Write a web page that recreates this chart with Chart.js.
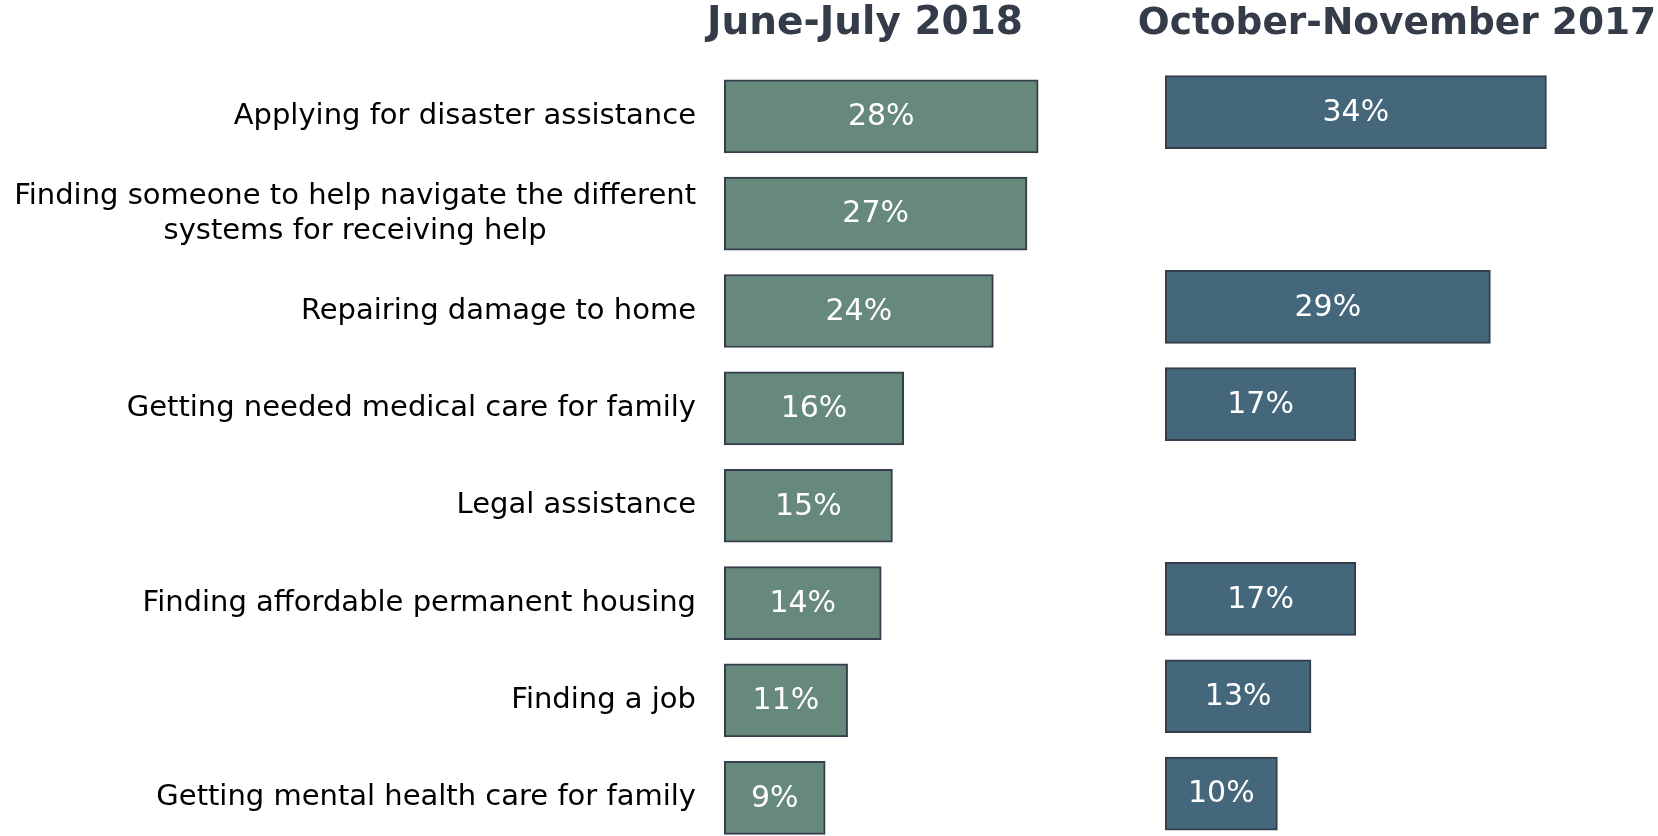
<!DOCTYPE html>
<html><head><meta charset="utf-8">
<script src="https://cdn.jsdelivr.net/npm/chart.js@4"></script>
<style>
html,body{margin:0;padding:0;background:#fff;overflow:hidden;}
#c1{position:absolute;left:0;top:0;}
#c2{position:absolute;left:1136px;top:0;}
</style></head><body>
<canvas id="c1" width="1130" height="836"></canvas>
<canvas id="c2" width="522" height="836"></canvas>
<script>
const categories = [
  'Applying for disaster assistance',
  ['Finding someone to help navigate the different', 'systems for receiving help'],
  'Repairing damage to home',
  'Getting needed medical care for family',
  'Legal assistance',
  'Finding affordable permanent housing',
  'Finding a job',
  'Getting mental health care for family'
];
const values2018 = [28, 27, 24, 16, 15, 14, 11, 9];
const values2017 = [34, null, 29, 17, null, 17, 13, 10];
const title2018 = 'June-July 2018';
const title2017 = 'October-November 2017';

const FONT = '"DejaVu Sans", Verdana, sans-serif';

const valueLabelPlugin = {
  id: 'valueLabels',
  afterDatasetsDraw(chart) {
    const ctx = chart.ctx;
    ctx.save();
    ctx.font = '30px ' + FONT;
    ctx.fillStyle = '#ffffff';
    ctx.textAlign = 'center';
    ctx.textBaseline = 'middle';
    chart.data.datasets.forEach((ds, di) => {
      const meta = chart.getDatasetMeta(di);
      meta.data.forEach((el, i) => {
        const v = ds.data[i];
        if (v === null || v === undefined) return;
        const p = el.getProps(['x', 'y', 'base'], true);
        ctx.fillText(v + '%', (p.x + p.base) / 2, p.y + 1);
      });
    });
    ctx.restore();
  }
};

const catLabelPlugin = {
  id: 'catLabels',
  afterDraw(chart) {
    const ys = chart.scales.y;
    const ctx = chart.ctx;
    ctx.save();
    ctx.font = '29px ' + FONT;
    ctx.fillStyle = '#000000';
    ctx.textAlign = 'center';
    ctx.textBaseline = 'middle';
    const right = chart.chartArea.left - 28.3;
    chart.data.labels.forEach((lab, i) => {
      const lines = Array.isArray(lab) ? lab : [lab];
      const w = Math.max(...lines.map(l => ctx.measureText(l).width));
      const cx = right - w / 2;
      const yc = ys.getPixelForValue(i);
      const lh = 35;
      lines.forEach((l, j) => ctx.fillText(l, cx, yc + (j - (lines.length - 1) / 2) * lh));
    });
    ctx.restore();
  }
};

function makeChart(id, values, title, color, opts) {
  return new Chart(document.getElementById(id), {
    type: 'bar',
    data: {
      labels: categories,
      datasets: [{
        data: values,
        backgroundColor: color,
        borderColor: '#343e4a',
        borderWidth: 2,
        borderSkipped: false,
        barThickness: 73,
        clip: false
      }]
    },
    options: {
      indexAxis: 'y',
      responsive: false,
      animation: false,
      events: [],
      layout: { padding: opts.padding },
      plugins: {
        legend: { display: false },
        tooltip: { enabled: false },
        title: {
          display: true,
          text: title,
          color: '#333c48',
          font: { family: FONT, size: opts.titleSize, weight: 'bold', lineHeight: 1 },
          padding: { top: opts.titleTop, bottom: opts.titleBottom }
        }
      },
      scales: {
        x: { display: false, min: 0, max: opts.xmax },
        y: {
          type: 'category',
          offset: false,
          display: true,
          ticks: { display: false },
          grid: { display: false, drawTicks: false },
          border: { display: false },
          afterFit(s) { s.width = opts.yWidth; }
        }
      }
    },
    plugins: opts.plugins
  });
}

// 11.21 px per percentage point on both panels
makeChart('c1', values2018, title2018, '#67897c', {
  padding: { left: 600, right: 0, top: 0, bottom: 38.2 },
  yWidth: 124.3,
  xmax: (1130 - 724.3) / 11.21,
  titleSize: 39,
  titleTop: 4.5,
  titleBottom: 116.3 - 39 - 4.5,
  plugins: [valueLabelPlugin, catLabelPlugin]
});

makeChart('c2', values2017, title2017, '#45677b', {
  padding: { left: 0, right: 0, top: 0, bottom: 42.4 },
  yWidth: 29.3,
  xmax: (522 - 29.3) / 11.21,
  titleSize: 37.5,
  titleTop: 5.25,
  titleBottom: 112.1 - 37.5 - 5.25,
  plugins: [valueLabelPlugin]
});
</script>
</body></html>
